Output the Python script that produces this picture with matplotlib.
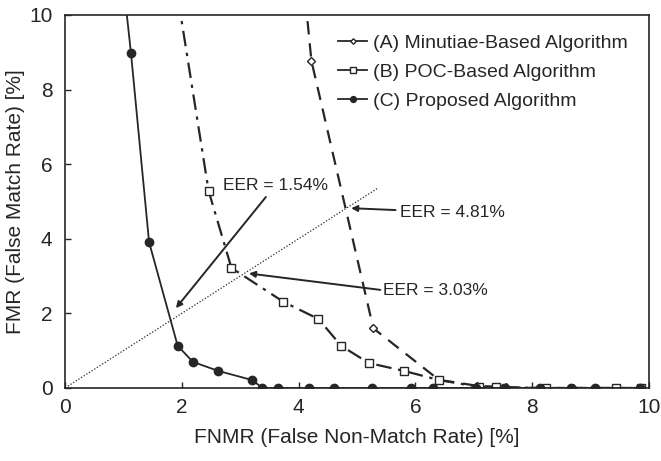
import matplotlib
matplotlib.use("Agg")
import matplotlib.pyplot as plt

plt.rcParams['font.family'] = ['Liberation Sans', 'DejaVu Sans']

# (A) minutiae-based, (B) POC-based, (C) proposed  -- FNMR [%] vs FMR [%]
fnmr_a = [4.08, 4.22, 5.28, 6.40, 7.05, 7.55, 8.15, 8.70, 9.10, 9.85]
fmr_a = [11.0, 8.77, 1.60, 0.22, 0.06, 0.02, 0.0, 0.0, 0.0, 0.0]

fnmr_b = [1.88, 2.46, 2.85, 3.74, 4.34, 4.73, 5.20, 5.80, 6.41, 7.09, 7.38, 8.24, 9.44, 9.86]
fmr_b = [11.0, 5.28, 3.22, 2.31, 1.85, 1.13, 0.67, 0.46, 0.21, 0.03, 0.02, 0.0, 0.0, 0.0]

fnmr_c = [0.99, 1.13, 1.44, 1.93, 2.19, 2.62, 3.21, 3.38, 3.64, 4.17, 4.60,
          5.25, 5.93, 6.30, 7.03, 7.52, 8.13, 8.66, 9.08, 9.85]
fmr_c = [11.0, 8.98, 3.91, 1.13, 0.70, 0.46, 0.21, 0.0, 0.0, 0.0, 0.0,
         0.0, 0.0, 0.0, 0.0, 0.0, 0.0, 0.0, 0.0, 0.0]

labels = ["(A) Minutiae-Based Algorithm", "(B) POC-Based Algorithm", "(C) Proposed Algorithm"]

# EER annotations: text, arrow tip, arrow tail, text position
eer_text = ["EER = 1.54%", "EER = 4.81%", "EER = 3.03%"]
eer_tip = [(1.90, 2.14), (4.90, 4.82), (3.15, 3.07)]
eer_start = [(3.44, 5.12), (5.66, 4.77), (5.40, 2.63)]
eer_pos = [(2.70, 5.44), (5.74, 4.70), (5.45, 2.60)]

ink = '#262626'

fig = plt.figure(figsize=(6.61, 4.61), dpi=100)
ax = fig.add_axes([0.0983, 0.1584, 0.8835, 0.8091])

ax.plot(fnmr_a, fmr_a, color=ink, lw=1.6, ls=(0, (6, 4)), marker='D', ms=4,
        mfc='white', mec=ink, mew=1.0, label=labels[0])
ax.plot(fnmr_b, fmr_b, color=ink, lw=1.6, ls=(0, (7, 3, 1.5, 3)), marker='s', ms=6,
        mfc='white', mec=ink, mew=1.0, label=labels[1])
ax.plot(fnmr_c, fmr_c, color=ink, lw=1.3, ls='-', marker='o', ms=6,
        mfc=ink, mec=ink, label=labels[2])

# equal error rate line
ax.plot([0.05, 5.35], [0.05, 5.35], color=ink, lw=0.9, ls=(0, (1, 1.5)))

for txt, tip, st, pos in zip(eer_text, eer_tip, eer_start, eer_pos):
    ax.annotate("", xy=tip, xytext=st,
                arrowprops=dict(arrowstyle='-|>', color=ink, lw=1.4,
                                mutation_scale=9, shrinkA=0, shrinkB=0))
    ax.text(pos[0], pos[1], txt, fontsize=12.5, color=ink, ha='left', va='center')

ax.set_xlim(0, 10)
ax.set_ylim(0, 10)
ax.set_xticks([0, 2, 4, 6, 8, 10])
ax.set_yticks([0, 2, 4, 6, 8, 10])
ax.tick_params(direction='in', length=4, width=1, colors=ink, labelsize=15)
ax.tick_params(axis='x', pad=7)
ax.tick_params(axis='y', pad=9)
for s in ax.spines.values():
    s.set_color(ink)
    s.set_linewidth(1.2)

ax.set_xlabel("FNMR (False Non-Match Rate) [%]", fontsize=15, color=ink, labelpad=8)
ax.set_ylabel("FMR (False Match Rate) [%]", fontsize=15, color=ink, labelpad=3)

leg = ax.legend(loc='upper left', bbox_to_anchor=(0.448, 0.98), frameon=False,
                fontsize=14, handlelength=1.5, handletextpad=0.3,
                labelspacing=0.6, markerscale=0.7, borderaxespad=0.2)
for t in leg.get_texts():
    t.set_color(ink)
# short legend keys drawn as plain line + marker
for h in leg.legend_handles:
    h.set_linestyle('-')
    h.set_linewidth(1.3)

fig.savefig("out.png", dpi=100)
